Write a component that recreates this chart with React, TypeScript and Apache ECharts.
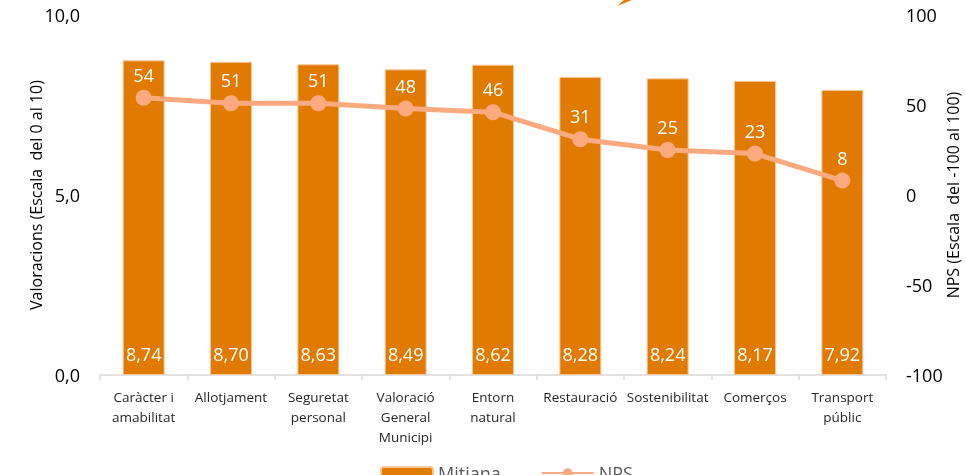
import React, { useEffect, useRef } from "react";
import * as echarts from "echarts";

const categories = [
  "Caràcter i\namabilitat",
  "Allotjament",
  "Seguretat\npersonal",
  "Valoració\nGeneral\nMunicipi",
  "Entorn\nnatural",
  "Restauració",
  "Sostenibilitat",
  "Comerços",
  "Transport\npúblic",
];
const mitjana = [8.74, 8.7, 8.63, 8.49, 8.62, 8.28, 8.24, 8.17, 7.92];
const nps = [54, 51, 51, 48, 46, 31, 25, 23, 8];

const FONT = "'Open Sans', 'Noto Sans', sans-serif";

export default function App() {
  const ref = useRef<HTMLDivElement>(null);
  useEffect(() => {
    if (!ref.current) return;
    const chart = echarts.init(ref.current, undefined, { renderer: "svg" });
    chart.setOption({
      animation: false,
      textStyle: { fontFamily: FONT },
      grid: {
        left: 100,
        right: 80,
        top: 15,
        bottom: 100,
        containLabel: false,
        outerBoundsMode: "none",
      },
      legend: {
        left: 375,
        top: 459,
        itemWidth: 52,
        itemHeight: 12,
        itemGap: 40,
        textStyle: { color: "#595959", fontSize: 18, fontFamily: FONT },
        data: ["Mitjana", "NPS"],
      },
      xAxis: {
        type: "category",
        data: categories,
        axisLine: { lineStyle: { color: "#d9d9d9", width: 1.5 } },
        axisTick: { show: true, length: 5, lineStyle: { color: "#d9d9d9", width: 1.5 } },
        axisLabel: {
          color: "#262626",
          fontSize: 13.5,
          lineHeight: 20,
          margin: 12,
          interval: 0,
          fontFamily: FONT,
        },
      },
      yAxis: [
        {
          type: "value",
          min: 0,
          max: 10,
          interval: 5,
          splitLine: { show: false },
          axisLine: { show: false },
          axisLabel: {
            color: "#000",
            fontSize: 18,
            margin: 20,
            fontFamily: FONT,
            formatter: (v: number) => v.toFixed(1).replace(".", ","),
          },
          name: "Valoracions (Escala  del 0 al 10)",
          nameLocation: "middle",
          nameGap: 56,
          nameMoveOverlap: false,
          nameTextStyle: { color: "#000", fontSize: 16, fontFamily: FONT },
        },
        {
          type: "value",
          min: -100,
          max: 100,
          interval: 50,
          splitLine: { show: false },
          axisLine: { show: false },
          axisLabel: { color: "#000", fontSize: 18, margin: 20, fontFamily: FONT },
          name: "NPS (Escala  del -100 al 100)",
          nameLocation: "middle",
          nameGap: 59,
          nameMoveOverlap: false,
          nameTextStyle: { color: "#000", fontSize: 16, fontFamily: FONT },
        },
      ],
      series: [
        {
          name: "Mitjana",
          type: "bar",
          data: mitjana,
          yAxisIndex: 0,
          barWidth: "48%",
          itemStyle: { color: "#E07A00", borderColor: "#F6C79A", borderWidth: 1 },
          label: {
            show: true,
            position: "insideBottom",
            distance: 12,
            color: "#fff",
            fontSize: 18,
            fontFamily: FONT,
            formatter: (p: any) => Number(p.value).toFixed(2).replace(".", ","),
          },
        },
        {
          name: "NPS",
          type: "line",
          data: nps,
          yAxisIndex: 1,
          symbol: "circle",
          symbolSize: 16,
          lineStyle: { color: "#FBAA80", width: 5 },
          itemStyle: { color: "#FBAA80" },
          label: {
            show: true,
            position: "top",
            distance: 6,
            color: "#fff",
            fontSize: 18,
            fontFamily: FONT,
          },
        },
      ],
      graphic: [
        {
          type: "polygon",
          shape: { points: [[617, 6], [624, 0], [632, 0]] },
          style: { fill: "#E07A00" },
        },
      ],
    });
    return () => chart.dispose();
  }, []);
  return (
    <div
      ref={ref}
      style={{ position: "fixed", left: 0, top: 0, width: 966, height: 475 }}
    />
  );
}
